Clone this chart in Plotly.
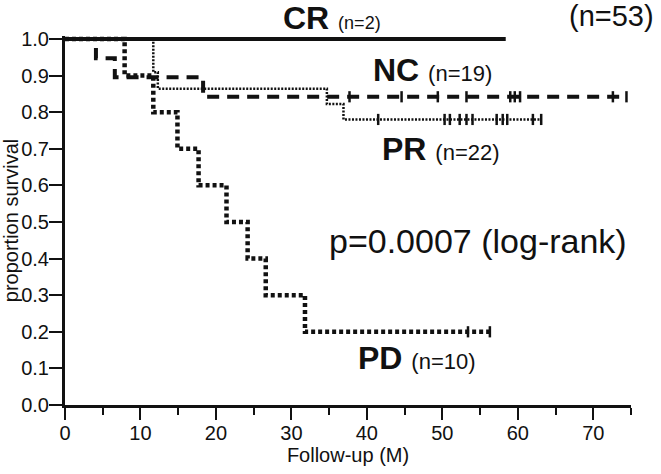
import plotly.graph_objects as go

# ---- data ----
cr_t = [0, 58.4]
cr_s = [1.0, 1.0]

nc_t = [0, 4.1, 6.6, 18.3, 74.4]
nc_s = [1.0, 0.947, 0.895, 0.842, 0.842]
nc_cens_t = [37.7, 44.6, 49.4, 53.2, 59.0, 59.6, 60.3, 72.6, 74.4]
nc_cens_s = [0.842] * len(nc_cens_t)

pr_t = [0, 11.7, 12.3, 34.7, 36.9, 63.1]
pr_s = [1.0, 0.909, 0.864, 0.822, 0.780, 0.780]
pr_cens_t = [41.5, 50.3, 51.0, 52.3, 53.2, 54.0, 57.2, 58.0, 58.6, 62.0, 63.1]
pr_cens_s = [0.780] * len(pr_cens_t)

pd_t = [0, 7.9, 11.7, 14.9, 17.7, 21.4, 24.2, 26.6, 31.8, 56.5]
pd_s = [1.0, 0.9, 0.8, 0.7, 0.6, 0.5, 0.4, 0.3, 0.2, 0.2]
pd_cens_t = [53.4, 56.3]
pd_cens_s = [0.2, 0.2]

x_ticks = [0, 10, 20, 30, 40, 50, 60, 70]
y_ticks = [0.0, 0.1, 0.2, 0.3, 0.4, 0.5, 0.6, 0.7, 0.8, 0.9, 1.0]

FONT = "Liberation Sans, Arial, sans-serif"
BLACK = "#111111"

fig = go.Figure()

fig.add_trace(go.Scatter(x=nc_t, y=nc_s, mode="lines", line_shape="hv",
                         line=dict(color=BLACK, width=4, dash="12px,8px")))
fig.add_trace(go.Scatter(x=pr_t, y=pr_s, mode="lines", line_shape="hv",
                         line=dict(color=BLACK, width=2.5, dash="2px,1.5px")))
fig.add_trace(go.Scatter(x=pd_t, y=pd_s, mode="lines", line_shape="hv",
                         line=dict(color=BLACK, width=4.5, dash="4px,3px")))
fig.add_trace(go.Scatter(x=cr_t, y=cr_s, mode="lines",
                         line=dict(color=BLACK, width=4)))

for t, s in [(nc_cens_t, nc_cens_s), (pr_cens_t, pr_cens_s), (pd_cens_t, pd_cens_s)]:
    fig.add_trace(go.Scatter(x=t, y=s, mode="markers", cliponaxis=False,
                             marker=dict(symbol="line-ns-open", size=8, color=BLACK,
                                         line=dict(color=BLACK, width=2.5))))

W, H = 661, 474
L, R, T, B = 65, 30, 36, 69
pw, ph = W - L - R, H - T - B


def px(xp):
    return (xp - L) / pw


def py(yp):
    return (H - B - yp) / ph


def ann(text, xp, yp, size, yanchor="middle"):
    fig.add_annotation(x=px(xp), y=py(yp), xref="paper", yref="paper",
                       xanchor="left", yanchor=yanchor, showarrow=False,
                       text=text, font=dict(family=FONT, size=size, color=BLACK))


small = "<span style='font-size:22px'>%s</span>"
ann("<b>CR</b> " + "<span style='font-size:18px'>(n=2)</span>", 281, -2, 32, "top")
ann("(n=53)", 567, -2, 29, "top")
ann("<b>NC</b> " + small % "(n=19)", 371, 70, 32)
ann("<b>PR</b> " + small % "(n=22)", 380, 149, 32)
ann("p=0.0007 (log-rank)", 327, 241, 34)
ann("<b>PD</b> " + small % "(n=10)", 356, 358, 32)

fig.update_layout(
    width=W, height=H,
    margin=dict(l=L, r=R, t=T, b=B, pad=0),
    paper_bgcolor="white", plot_bgcolor="white",
    showlegend=False,
    font=dict(family=FONT, color=BLACK),
    xaxis=dict(range=[0, 75], tickvals=x_ticks, ticks="outside", ticklen=12,
               tickwidth=2, tickcolor=BLACK, showline=True, linewidth=3,
               linecolor=BLACK, showgrid=False, zeroline=False,
               ticklabelstandoff=-4,
               tickfont=dict(size=20, family=FONT, color=BLACK),
               minor=dict(dtick=5, ticks="outside", ticklen=7, tickwidth=2,
                          tickcolor=BLACK, showgrid=False),
               title=dict(text="Follow-up (M)", font=dict(size=20, family=FONT, color=BLACK),
                          standoff=0),
               automargin=False),
    yaxis=dict(range=[0, 1.008], tickvals=y_ticks, tickformat=".1f", ticks="outside",
               ticklen=13, tickwidth=2, tickcolor=BLACK, showline=True, linewidth=3,
               linecolor=BLACK, showgrid=False, zeroline=False,
               ticklabelstandoff=-4,
               tickfont=dict(size=20, family=FONT, color=BLACK),
               title=dict(text="proportion survival", font=dict(size=20, family=FONT, color=BLACK),
                          standoff=12),
               automargin=False),
)

fig.write_html("out.html", config={"displayModeBar": False},
               post_script="document.body.style.margin='0';document.body.style.overflow='hidden';")
